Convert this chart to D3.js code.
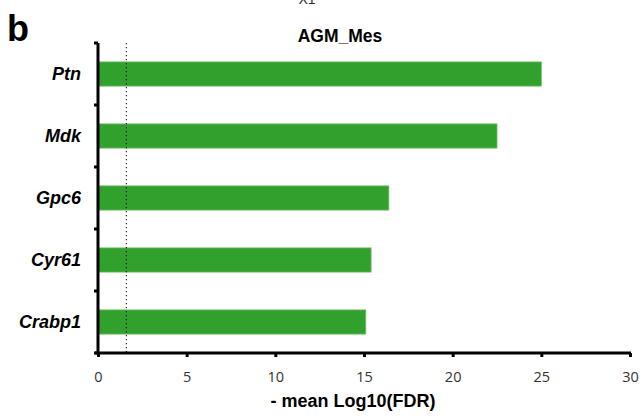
<!DOCTYPE html>
<html>
<head>
<meta charset="utf-8">
<script src="https://cdn.jsdelivr.net/npm/d3@7"></script>
<style>
	body { margin: 0; background: #fff; }
	svg { font-family: "Liberation Sans", Arial, sans-serif; display: block; }
</style>
</head>
<body>
<div class="container"></div>
<script>

const genes = ["Ptn", "Mdk", "Gpc6", "Cyr61", "Crabp1"];
const scores = [25.0, 22.5, 16.4, 15.4, 15.1];
const threshold = 1.6;
const xTicks = [0, 5, 10, 15, 20, 25, 30];

const outerWidth = 642;
const outerHeight = 418;
const margin = { top: 43, right: 12, bottom: 65, left: 98 };
const width = outerWidth - margin.left - margin.right;
const height = outerHeight - margin.top - margin.bottom;

const data = genes.map((g, i) => ({ gene: g, value: scores[i] }));

const svg = d3.select(".container")
				.append("svg")
				.attr("width", outerWidth)
				.attr("height", outerHeight);

const g = svg.append("g")
				.attr("transform", `translate(${margin.left},${margin.top})`);

const x = d3.scaleLinear()
			.domain([0, 30])
			.range([0, 532]);

const y = d3.scaleBand()
			.domain(genes)
			.range([0, height])
			.paddingInner(0.61)
			.paddingOuter(0.305);

// bars
g.selectAll(".bar")
	.data(data).enter()
	.append("rect")
		.attr("class", "bar")
		.attr("x", x(0))
		.attr("y", (d) => y(d.gene))
		.attr("width", (d) => x(d.value) - x(0))
		.attr("height", y.bandwidth())
		.style("fill", "#32a02c")
		.style("stroke", "#6cbf66")
		.style("stroke-width", 0.8);

// threshold line
g.append("line")
	.attr("x1", x(threshold))
	.attr("x2", x(threshold))
	.attr("y1", 0)
	.attr("y2", height)
	.style("stroke", "#222")
	.style("stroke-width", 1.2)
	.style("stroke-dasharray", "1.2,2.8");

// x axis
const xAxis = g.append("g")
	.attr("transform", `translate(0,${height})`)
	.call(d3.axisBottom(x).tickValues(xTicks).tickSize(4).tickSizeOuter(0).tickPadding(15));

xAxis.select(".domain")
	.attr("d", `M${x(0) - 3},0H${x(30) + 1}`)
	.style("stroke", "#000")
	.style("stroke-width", 3);
xAxis.selectAll(".tick line")
	.style("stroke", "#000")
	.style("stroke-width", 3);
xAxis.selectAll(".tick text")
	.style("font-size", "14.5px")
	.style("fill", "#333")
	.style("font-family", "\"Open Sans\", \"Liberation Sans\", sans-serif");

// y axis, ticks sit between the bands
const bounds = genes.map((d) => y(d) - (y.step() - y.bandwidth()) / 2).concat([height]);

const yAxis = g.append("g");
yAxis.append("line")
	.attr("x1", 0).attr("x2", 0)
	.attr("y1", 0).attr("y2", height)
	.style("stroke", "#000")
	.style("stroke-width", 3);
yAxis.selectAll(".ytick")
	.data(bounds).enter()
	.append("line")
		.attr("x1", -4).attr("x2", 0)
		.attr("y1", (d) => d).attr("y2", (d) => d)
		.style("stroke", "#000")
		.style("stroke-width", 3);

yAxis.selectAll(".label")
	.data(genes).enter()
	.append("text")
		.attr("x", -17)
		.attr("y", (d) => y(d) + y.bandwidth() / 2)
		.attr("dy", "0.36em")
		.attr("text-anchor", "end")
		.style("font-size", "18px")
		.style("font-weight", "bold")
		.style("font-style", "italic")
		.text((d) => d);

// titles
svg.append("text")
	.attr("x", 340)
	.attr("y", 42)
	.attr("text-anchor", "middle")
	.style("font-size", "17.5px")
	.style("font-weight", "bold")
	.text("AGM_Mes");

svg.append("text")
	.attr("x", 353)
	.attr("y", 407)
	.attr("text-anchor", "middle")
	.style("font-size", "18px")
	.style("font-weight", "bold")
	.text("- mean Log10(FDR)");

svg.append("text")
	.attr("x", 7)
	.attr("y", 41)
	.style("font-size", "36px")
	.style("font-weight", "bold")
	.text("b");

svg.append("text")
	.attr("x", 307)
	.attr("y", 4)
	.attr("text-anchor", "middle")
	.style("font-size", "14px")
	.style("fill", "#333")
	.text("X1");

</script>
</body>
</html>
